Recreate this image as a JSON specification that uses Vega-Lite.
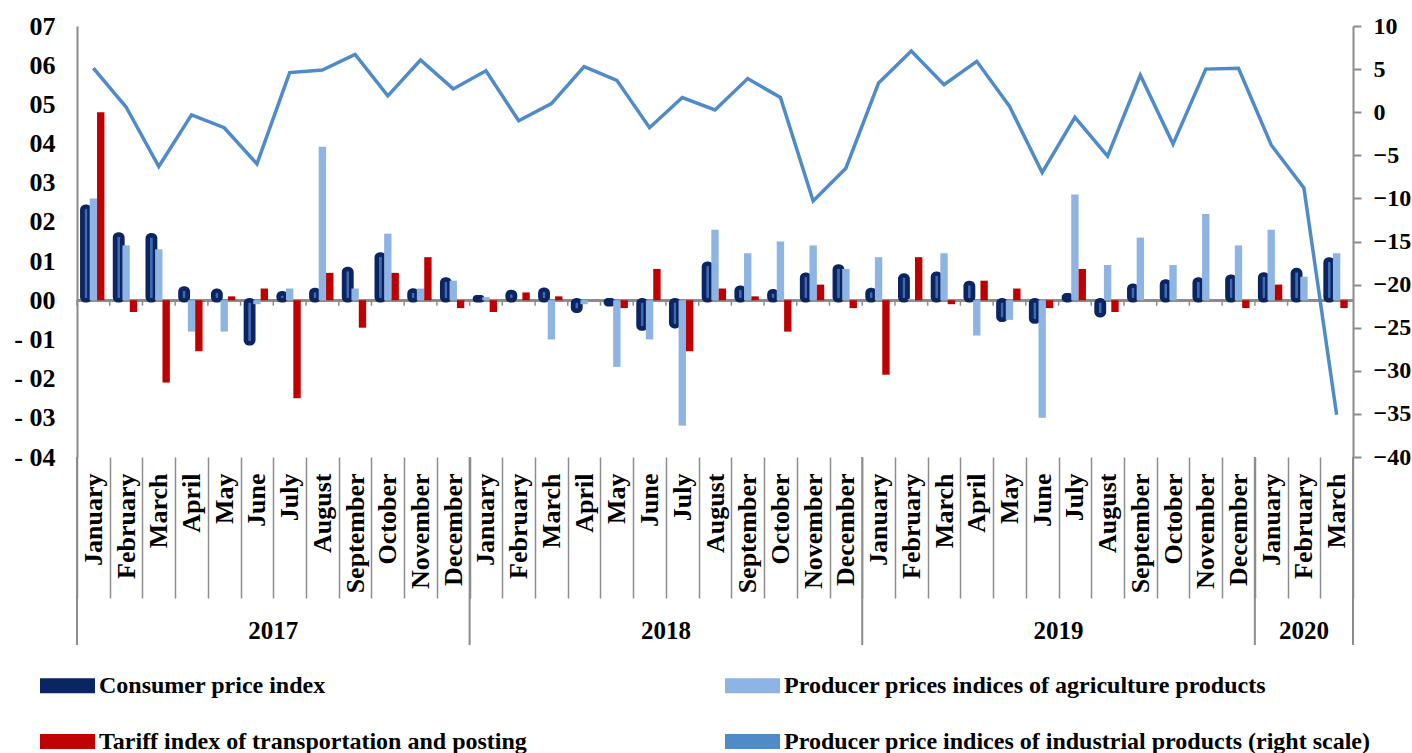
{
  "$schema": "https://vega.github.io/schema/vega-lite/v6.json",
  "width": 1276,
  "height": 431,
  "autosize": {"type": "none"},
  "padding": {"left": 77, "top": 26, "right": 59, "bottom": 296},
  "background": "white",
  "config": {"view": {"stroke": null}, "font": "Liberation Serif"},
  "data": {"values": [
    {"period": "2017-01", "year": "2017", "cpi": 2.39, "agri": 2.6, "tariff": 4.8, "industrial": 5.1},
    {"period": "2017-02", "year": "2017", "cpi": 1.68, "agri": 1.4, "tariff": -0.3, "industrial": 0.6},
    {"period": "2017-03", "year": "2017", "cpi": 1.66, "agri": 1.3, "tariff": -2.1, "industrial": -6.3},
    {"period": "2017-04", "year": "2017", "cpi": 0.3, "agri": -0.8, "tariff": -1.3, "industrial": -0.3},
    {"period": "2017-05", "year": "2017", "cpi": 0.24, "agri": -0.8, "tariff": 0.1, "industrial": -1.8},
    {"period": "2017-06", "year": "2017", "cpi": -1.1, "agri": -0.1, "tariff": 0.3, "industrial": -6.0},
    {"period": "2017-07", "year": "2017", "cpi": 0.18, "agri": 0.3, "tariff": -2.5, "industrial": 4.6},
    {"period": "2017-08", "year": "2017", "cpi": 0.26, "agri": 3.92, "tariff": 0.7, "industrial": 4.9},
    {"period": "2017-09", "year": "2017", "cpi": 0.8, "agri": 0.3, "tariff": -0.7, "industrial": 6.7},
    {"period": "2017-10", "year": "2017", "cpi": 1.17, "agri": 1.7, "tariff": 0.7, "industrial": 1.9},
    {"period": "2017-11", "year": "2017", "cpi": 0.25, "agri": 0.3, "tariff": 1.1, "industrial": 6.06},
    {"period": "2017-12", "year": "2017", "cpi": 0.53, "agri": 0.5, "tariff": -0.2, "industrial": 2.7},
    {"period": "2018-01", "year": "2018", "cpi": 0.08, "agri": 0.08, "tariff": -0.3, "industrial": 4.8},
    {"period": "2018-02", "year": "2018", "cpi": 0.21, "agri": 0.0, "tariff": 0.2, "industrial": -1.0},
    {"period": "2018-03", "year": "2018", "cpi": 0.27, "agri": -1.0, "tariff": 0.1, "industrial": 1.0},
    {"period": "2018-04", "year": "2018", "cpi": -0.27, "agri": -0.1, "tariff": 0.0, "industrial": 5.3},
    {"period": "2018-05", "year": "2018", "cpi": -0.1, "agri": -1.7, "tariff": -0.2, "industrial": 3.7},
    {"period": "2018-06", "year": "2018", "cpi": -0.72, "agri": -1.0, "tariff": 0.8, "industrial": -1.8},
    {"period": "2018-07", "year": "2018", "cpi": -0.66, "agri": -3.2, "tariff": -1.3, "industrial": 1.7},
    {"period": "2018-08", "year": "2018", "cpi": 0.93, "agri": 1.8, "tariff": 0.3, "industrial": 0.26},
    {"period": "2018-09", "year": "2018", "cpi": 0.32, "agri": 1.2, "tariff": 0.1, "industrial": 3.9},
    {"period": "2018-10", "year": "2018", "cpi": 0.23, "agri": 1.5, "tariff": -0.8, "industrial": 1.7},
    {"period": "2018-11", "year": "2018", "cpi": 0.65, "agri": 1.4, "tariff": 0.4, "industrial": -10.3},
    {"period": "2018-12", "year": "2018", "cpi": 0.86, "agri": 0.8, "tariff": -0.2, "industrial": -6.5},
    {"period": "2019-01", "year": "2019", "cpi": 0.26, "agri": 1.1, "tariff": -1.9, "industrial": 3.4},
    {"period": "2019-02", "year": "2019", "cpi": 0.63, "agri": 0.03, "tariff": 1.1, "industrial": 7.1},
    {"period": "2019-03", "year": "2019", "cpi": 0.68, "agri": 1.2, "tariff": -0.1, "industrial": 3.2},
    {"period": "2019-04", "year": "2019", "cpi": 0.44, "agri": -0.9, "tariff": 0.5, "industrial": 5.9},
    {"period": "2019-05", "year": "2019", "cpi": -0.5, "agri": -0.5, "tariff": 0.3, "industrial": 0.7},
    {"period": "2019-06", "year": "2019", "cpi": -0.54, "agri": -3.0, "tariff": -0.2, "industrial": -7.0},
    {"period": "2019-07", "year": "2019", "cpi": 0.13, "agri": 2.7, "tariff": 0.8, "industrial": -0.6},
    {"period": "2019-08", "year": "2019", "cpi": -0.38, "agri": 0.9, "tariff": -0.3, "industrial": -5.1},
    {"period": "2019-09", "year": "2019", "cpi": 0.37, "agri": 1.6, "tariff": 0.0, "industrial": 4.3},
    {"period": "2019-10", "year": "2019", "cpi": 0.48, "agri": 0.9, "tariff": 0.0, "industrial": -3.7},
    {"period": "2019-11", "year": "2019", "cpi": 0.53, "agri": 2.2, "tariff": 0.0, "industrial": 5.0},
    {"period": "2019-12", "year": "2019", "cpi": 0.6, "agri": 1.4, "tariff": -0.2, "industrial": 5.1},
    {"period": "2020-01", "year": "2020", "cpi": 0.66, "agri": 1.8, "tariff": 0.4, "industrial": -3.8},
    {"period": "2020-02", "year": "2020", "cpi": 0.77, "agri": 0.6, "tariff": 0.0, "industrial": -8.8},
    {"period": "2020-03", "year": "2020", "cpi": 1.04, "agri": 1.2, "tariff": -0.2, "industrial": -35.1}
  ]},
  "layer": [
    {
      "mark": {"type": "rule", "color": "#8c8c8c", "strokeWidth": 2},
      "encoding": {
        "y": {"datum": 0, "type": "quantitative", "scale": {"domain": [-4, 7], "nice": false}, "axis": null}
      }
    },
    {
      "transform": [{"fold": ["cpi", "agri", "tariff"], "as": ["key", "val"]}, {"filter": "datum.key === 'cpi'"}],
      "mark": {"type": "bar", "cornerRadius": 3, "stroke": "#0B2563", "strokeWidth": 4.5, "fill": "#3F6AAE"},
      "encoding": {
        "x": {
          "field": "period", "type": "nominal",
          "scale": {"paddingInner": 0, "paddingOuter": 0},
          "axis": {"title": null, "orient": "bottom", "domain": false, "ticks": true, "tickBand": "extent", "tickSize": 141, "tickColor": "#8c8c8c", "tickWidth": 1.5, "labelAngle": -90, "labelFont": "Liberation Serif", "labelFontWeight": "bold", "labelFontSize": 26, "labelColor": "black", "labelPadding": -125, "labelOverlap": false, "grid": false, "labelExpr": "['January','February','March','April','May','June','July','August','September','October','November','December'][toNumber(substring(datum.value,5,7))-1]"}
        },
        "xOffset": {"field": "key", "type": "nominal", "scale": {"domain": ["cpi", "agri", "tariff"], "paddingInner": 0, "paddingOuter": 0.72}},
        "y": {
          "field": "val", "type": "quantitative",
          "scale": {"domain": [-4, 7], "nice": false},
          "axis": {
            "title": null, "orient": "left", "values": [-4, -3, -2, -1, 0, 1, 2, 3, 4, 5, 6, 7],
            "domain": true, "domainColor": "#8c8c8c", "domainWidth": 2, "ticks": false,
            "labelPadding": 22, "labelFont": "Liberation Serif", "labelFontWeight": "bold",
            "labelFontSize": 26, "labelColor": "black", "grid": false,
            "labelExpr": "datum.value < 0 ? '- 0' + abs(datum.value) : '0' + datum.value"
          }
        },
        "color": {
          "field": "key", "type": "nominal",
          "scale": {"domain": ["cpi", "agri", "tariff", "industrial"], "range": ["#0B2563", "#8DB4E2", "#C00000", "#4F8BC9"]},
          "legend": {
            "title": null, "orient": "none", "legendX": -37, "legendY": 632, "columns": 2,
            "direction": "horizontal", "columnPadding": 198, "rowPadding": 16,
            "symbolType": "M-1,-0.27H1V0.27H-1Z", "symbolSize": 3025, "symbolStrokeWidth": 0,
            "labelFont": "Liberation Serif", "labelFontWeight": "bold", "labelFontSize": 24,
            "labelColor": "black", "labelOffset": 4, "labelLimit": 0,
            "labelExpr": "datum.value === 'cpi' ? 'Consumer price index' : datum.value === 'agri' ? 'Producer prices indices of agriculture products' : datum.value === 'tariff' ? 'Tariff index of transportation and posting' : 'Producer price indices of industrial products (right scale)'"
          }
        }
      }
    },
    {
      "transform": [{"fold": ["cpi", "agri", "tariff"], "as": ["key", "val"]}, {"filter": "datum.key !== 'cpi'"}],
      "mark": {"type": "bar"},
      "encoding": {
        "x": {"field": "period", "type": "nominal",
          "axis": {"title": null, "orient": "bottom", "domain": false, "ticks": true, "tickBand": "extent", "tickSize": 141, "tickColor": "#8c8c8c", "tickWidth": 1.5, "labelAngle": -90, "labelFont": "Liberation Serif", "labelFontWeight": "bold", "labelFontSize": 26, "labelColor": "black", "labelPadding": -125, "labelOverlap": false, "grid": false, "labelExpr": "['January','February','March','April','May','June','July','August','September','October','November','December'][toNumber(substring(datum.value,5,7))-1]"}},
        "xOffset": {"field": "key", "type": "nominal", "scale": {"domain": ["cpi", "agri", "tariff"], "paddingInner": 0, "paddingOuter": 0.72}},
        "y": {"field": "val", "type": "quantitative", "scale": {"domain": [-4, 7], "nice": false}, "axis": null},
        "color": {"condition": {"test": "datum.key === 'agri'", "value": "#8DB4E2"}, "value": "#C00000"}
      }
    },
    {
      "mark": {"type": "rule", "color": "#8c8c8c", "strokeWidth": 1.5},
      "encoding": {
        "x": {"field": "period", "type": "nominal", "bandPosition": 0,
          "axis": {"title": null, "orient": "bottom", "domain": false, "ticks": true, "tickBand": "extent", "tickSize": 141, "tickColor": "#8c8c8c", "tickWidth": 1.5, "labelAngle": -90, "labelFont": "Liberation Serif", "labelFontWeight": "bold", "labelFontSize": 26, "labelColor": "black", "labelPadding": -125, "labelOverlap": false, "grid": false, "labelExpr": "['January','February','March','April','May','June','July','August','September','October','November','December'][toNumber(substring(datum.value,5,7))-1]"}},
        "y": {"datum": 0, "type": "quantitative", "scale": {"domain": [-4, 7], "nice": false}, "axis": null},
        "y2": {"datum": -0.14}
      }
    },
    {
      "transform": [{"filter": "substring(datum.period,5,7) === '01'"}],
      "mark": {"type": "rule", "color": "#8c8c8c", "strokeWidth": 2},
      "encoding": {
        "x": {"field": "period", "type": "nominal", "bandPosition": 0,
          "axis": {"title": null, "orient": "bottom", "domain": false, "ticks": true, "tickBand": "extent", "tickSize": 141, "tickColor": "#8c8c8c", "tickWidth": 1.5, "labelAngle": -90, "labelFont": "Liberation Serif", "labelFontWeight": "bold", "labelFontSize": 26, "labelColor": "black", "labelPadding": -125, "labelOverlap": false, "grid": false, "labelExpr": "['January','February','March','April','May','June','July','August','September','October','November','December'][toNumber(substring(datum.value,5,7))-1]"}},
        "y": {"datum": -4, "type": "quantitative", "scale": {"domain": [-4, 7], "nice": false}, "axis": null},
        "y2": {"datum": -8.8}
      }
    },
    {
      "transform": [{"filter": "datum.period === '2020-03'"}],
      "mark": {"type": "rule", "color": "#8c8c8c", "strokeWidth": 2},
      "encoding": {
        "x": {"field": "period", "type": "nominal", "bandPosition": 1,
          "axis": {"title": null, "orient": "bottom", "domain": false, "ticks": true, "tickBand": "extent", "tickSize": 141, "tickColor": "#8c8c8c", "tickWidth": 1.5, "labelAngle": -90, "labelFont": "Liberation Serif", "labelFontWeight": "bold", "labelFontSize": 26, "labelColor": "black", "labelPadding": -125, "labelOverlap": false, "grid": false, "labelExpr": "['January','February','March','April','May','June','July','August','September','October','November','December'][toNumber(substring(datum.value,5,7))-1]"}},
        "y": {"datum": -4, "type": "quantitative", "scale": {"domain": [-4, 7], "nice": false}, "axis": null},
        "y2": {"datum": -8.8}
      }
    },
    {
      "transform": [{"filter": "substring(datum.period,5,7) === '07'"}],
      "mark": {"type": "text", "font": "Liberation Serif", "fontWeight": "bold", "fontSize": 25, "color": "black", "baseline": "middle", "align": "center"},
      "encoding": {
        "x": {"field": "period", "type": "nominal", "bandPosition": 0,
          "axis": {"title": null, "orient": "bottom", "domain": false, "ticks": true, "tickBand": "extent", "tickSize": 141, "tickColor": "#8c8c8c", "tickWidth": 1.5, "labelAngle": -90, "labelFont": "Liberation Serif", "labelFontWeight": "bold", "labelFontSize": 26, "labelColor": "black", "labelPadding": -125, "labelOverlap": false, "grid": false, "labelExpr": "['January','February','March','April','May','June','July','August','September','October','November','December'][toNumber(substring(datum.value,5,7))-1]"}},
        "y": {"datum": -8.45, "type": "quantitative", "scale": {"domain": [-4, 7], "nice": false}, "axis": null},
        "text": {"field": "year"}
      }
    },
    {
      "transform": [{"filter": "datum.period === '2020-02'"}],
      "mark": {"type": "text", "font": "Liberation Serif", "fontWeight": "bold", "fontSize": 25, "color": "black", "baseline": "middle", "align": "center"},
      "encoding": {
        "x": {"field": "period", "type": "nominal", "bandPosition": 0.5,
          "axis": {"title": null, "orient": "bottom", "domain": false, "ticks": true, "tickBand": "extent", "tickSize": 141, "tickColor": "#8c8c8c", "tickWidth": 1.5, "labelAngle": -90, "labelFont": "Liberation Serif", "labelFontWeight": "bold", "labelFontSize": 26, "labelColor": "black", "labelPadding": -125, "labelOverlap": false, "grid": false, "labelExpr": "['January','February','March','April','May','June','July','August','September','October','November','December'][toNumber(substring(datum.value,5,7))-1]"}},
        "y": {"datum": -8.45, "type": "quantitative", "scale": {"domain": [-4, 7], "nice": false}, "axis": null},
        "text": {"field": "year"}
      }
    },
    {
      "mark": {"type": "line", "color": "#4F8BC9", "strokeWidth": 3.5},
      "encoding": {
        "x": {"field": "period", "type": "nominal",
          "axis": {"title": null, "orient": "bottom", "domain": false, "ticks": true, "tickBand": "extent", "tickSize": 141, "tickColor": "#8c8c8c", "tickWidth": 1.5, "labelAngle": -90, "labelFont": "Liberation Serif", "labelFontWeight": "bold", "labelFontSize": 26, "labelColor": "black", "labelPadding": -125, "labelOverlap": false, "grid": false, "labelExpr": "['January','February','March','April','May','June','July','August','September','October','November','December'][toNumber(substring(datum.value,5,7))-1]"}},
        "y": {
          "field": "industrial", "type": "quantitative",
          "scale": {"domain": [-40, 10], "nice": false},
          "axis": {
            "title": null, "orient": "right", "values": [-40, -35, -30, -25, -20, -15, -10, -5, 0, 5, 10],
            "domain": true, "domainColor": "#8c8c8c", "domainWidth": 2, "ticks": true, "tickColor": "#8c8c8c",
            "tickSize": 8, "tickWidth": 2, "labelPadding": 12, "labelFont": "Liberation Serif",
            "labelFontWeight": "bold", "labelFontSize": 24, "labelColor": "black", "grid": false
          }
        }
      }
    }
  ],
  "resolve": {"scale": {"y": "independent"}}
}
